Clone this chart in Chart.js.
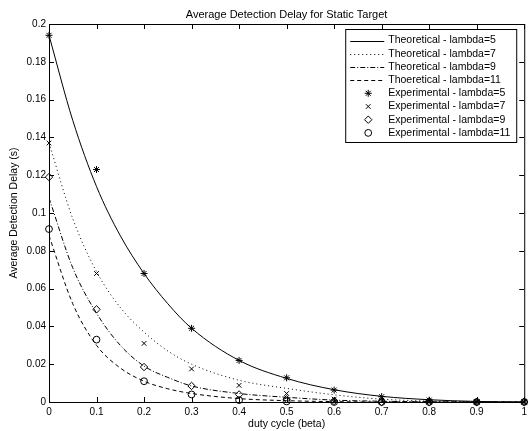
<!DOCTYPE html>
<html>
<head>
<meta charset="utf-8">
<script src="https://cdn.jsdelivr.net/npm/chart.js@4"></script>
<style>
  html, body { margin: 0; padding: 0; background: #fff; }
</style>
</head>
<body>
<canvas id="delayChart" width="531" height="431"></canvas>
<script>
// Data
const betaTheory = [0, 0.05, 0.1, 0.15, 0.2, 0.25, 0.3, 0.4, 0.5, 0.6, 0.7, 0.8, 0.9, 1];
const theory5  = [0.194, 0.149, 0.114, 0.088, 0.068, 0.052, 0.039, 0.022, 0.0125, 0.0065, 0.003, 0.0012, 0.0003, 0];
const theory7  = [0.137, 0.097, 0.069, 0.050, 0.037, 0.027, 0.020, 0.0115, 0.0072, 0.0038, 0.0015, 0.0005, 0.0001, 0];
const theory9  = [0.108, 0.071, 0.047, 0.030, 0.019, 0.013, 0.0085, 0.0045, 0.0025, 0.001, 0.0004, 0.0001, 0, 0];
const theory11 = [0.088, 0.052, 0.030, 0.018, 0.011, 0.007, 0.0045, 0.0018, 0.0007, 0.0002, 0, 0, 0, 0];

const betaExp = [0, 0.1, 0.2, 0.3, 0.4, 0.5, 0.6, 0.7, 0.8, 0.9, 1];
const exp5  = [0.194, 0.123, 0.068, 0.039, 0.022, 0.0128, 0.0063, 0.0028, 0.001, 0, 0];
const exp7  = [0.137, 0.068, 0.031, 0.0175, 0.0088, 0.0045, 0.0015, 0.0005, 0, 0, 0];
const exp9  = [0.119, 0.049, 0.0185, 0.0085, 0.004, 0.0015, 0.0005, 0, 0, 0, 0];
const exp11 = [0.0915, 0.033, 0.011, 0.004, 0.001, 0.0003, 0, 0, 0, 0, 0];

const xTickLabels = ['0', '0.1', '0.2', '0.3', '0.4', '0.5', '0.6', '0.7', '0.8', '0.9', '1'];
const yTickLabels = ['0', '0.02', '0.04', '0.06', '0.08', '0.1', '0.12', '0.14', '0.16', '0.18', '0.2'];

const FONT = "'Liberation Sans', Arial, Helvetica, sans-serif";

function pts(xs, ys) {
  return xs.map((x, i) => ({ x: x, y: ys[i] }));
}

function theoryLine(label, ys, dash) {
  return {
    label: label,
    data: pts(betaTheory, ys),
    borderColor: '#000',
    borderWidth: 1,
    borderDash: dash,
    pointRadius: 0,
    fill: false,
    cubicInterpolationMode: 'monotone'
  };
}

function expPoints(label, ys, style, r) {
  return {
    label: label,
    data: pts(betaExp, ys),
    showLine: false,
    borderColor: '#000',
    backgroundColor: 'rgba(0,0,0,0)',
    pointStyle: style,
    pointRadius: r,
    pointBorderWidth: 1,
    pointBorderColor: '#000',
    pointBackgroundColor: 'rgba(0,0,0,0)',
    clip: false
  };
}

// MATLAB style box with inward ticks
const framePlugin = {
  id: 'matlabFrame',
  afterDraw(chart) {
    const { ctx, chartArea: a, scales: { x, y } } = chart;
    ctx.save();
    ctx.strokeStyle = '#000';
    ctx.lineWidth = 1;
    ctx.setLineDash([]);
    ctx.strokeRect(a.left + 0.5, a.top + 0.5, a.right - a.left, a.bottom - a.top);
    ctx.beginPath();
    x.ticks.forEach(t => {
      const px = Math.round(x.getPixelForValue(t.value)) + 0.5;
      ctx.moveTo(px, a.bottom); ctx.lineTo(px, a.bottom - 5);
      ctx.moveTo(px, a.top); ctx.lineTo(px, a.top + 5);
    });
    y.ticks.forEach(t => {
      const py = Math.round(y.getPixelForValue(t.value)) + 0.5;
      ctx.moveTo(a.left, py); ctx.lineTo(a.left + 5, py);
      ctx.moveTo(a.right, py); ctx.lineTo(a.right - 5, py);
    });
    ctx.stroke();
    ctx.restore();
  }
};

// Boxed legend in the top right corner
const legendPlugin = {
  id: 'boxLegend',
  afterDraw(chart) {
    const { ctx, chartArea: a } = chart;
    const sets = chart.data.datasets;
    const right = a.right - 8, top = a.top + 5;
    const w = 171, h = 113;
    const left = right - w;
    ctx.save();
    ctx.fillStyle = '#fff';
    ctx.fillRect(left, top, w, h);
    ctx.strokeStyle = '#000';
    ctx.lineWidth = 1;
    ctx.strokeRect(left + 0.5, top + 0.5, w, h);
    ctx.font = '10.5px ' + FONT;
    ctx.textBaseline = 'middle';
    sets.forEach((ds, i) => {
      const ry = top + 11.5 + i * 13.2;
      ctx.strokeStyle = '#000';
      ctx.fillStyle = '#000';
      if (ds.showLine === false) {
        ctx.setLineDash([]);
        ctx.fillStyle = 'rgba(0,0,0,0)';
        Chart.helpers.drawPoint(ctx, {
          pointStyle: ds.pointStyle, radius: ds.pointRadius, borderWidth: 1, rotation: 0
        }, left + 23, ry);
      } else {
        ctx.beginPath();
        ctx.setLineDash(ds.borderDash || []);
        ctx.moveTo(left + 5, Math.round(ry) + 0.5);
        ctx.lineTo(left + 39, Math.round(ry) + 0.5);
        ctx.stroke();
      }
      ctx.setLineDash([]);
      ctx.fillStyle = '#000';
      ctx.fillText(ds.label, left + 43, ry);
    });
    ctx.restore();
  }
};

const tickFont = { family: FONT, size: 10 };
const labelFont = { family: FONT, size: 10.5 };

const ctx = document.getElementById('delayChart').getContext('2d');
const delayChart = new Chart(ctx, {
  type: 'line',
  data: {
    datasets: [
      theoryLine('Theoretical - lambda=5', theory5, []),
      theoryLine('Theoretical - lambda=7', theory7, [1, 3]),
      theoryLine('Theoretical - lambda=9', theory9, [5, 2, 1, 2]),
      theoryLine('Thoeretical - lambda=11', theory11, [4, 3]),
      expPoints('Experimental - lambda=5', exp5, 'star', 3.5),
      expPoints('Experimental - lambda=7', exp7, 'crossRot', 3.3),
      expPoints('Experimental - lambda=9', exp9, 'rectRot', 3.7),
      expPoints('Experimental - lambda=11', exp11, 'circle', 3.4)
    ]
  },
  options: {
    responsive: false,
    animation: false,
    events: [],
    layout: { padding: { left: 0, right: 4, top: 0, bottom: 0 } },
    plugins: {
      legend: { display: false },
      tooltip: { enabled: false },
      title: {
        display: true,
        text: 'Average Detection Delay for Static Target',
        fullSize: false,
        color: '#000',
        font: { family: FONT, size: 11, weight: 'normal' },
        padding: { top: 8, bottom: 2.8 }
      }
    },
    scales: {
      x: {
        type: 'linear',
        min: 0,
        max: 1,
        grid: { display: false, drawTicks: false },
        border: { display: false },
        ticks: {
          stepSize: 0.1,
          autoSkip: false,
          maxRotation: 0,
          padding: 4,
          color: '#000',
          font: tickFont,
          callback: (v, i) => xTickLabels[i]
        },
        title: {
          display: true,
          text: 'duty cycle (beta)',
          color: '#000',
          font: labelFont,
          padding: { top: 0, bottom: 1 }
        },
        afterFit: s => { s.height = 29; }
      },
      y: {
        type: 'linear',
        min: 0,
        max: 0.2,
        grid: { display: false, drawTicks: false },
        border: { display: false },
        ticks: {
          stepSize: 0.02,
          autoSkip: false,
          padding: 3,
          color: '#000',
          font: tickFont,
          callback: (v, i) => yTickLabels[i]
        },
        title: {
          display: true,
          text: 'Average Detection Delay (s)',
          color: '#000',
          font: labelFont,
          padding: { top: 8, bottom: 0 }
        },
        afterFit: s => { s.width = 49; }
      }
    }
  },
  plugins: [framePlugin, legendPlugin]
});
</script>
</body>
</html>
